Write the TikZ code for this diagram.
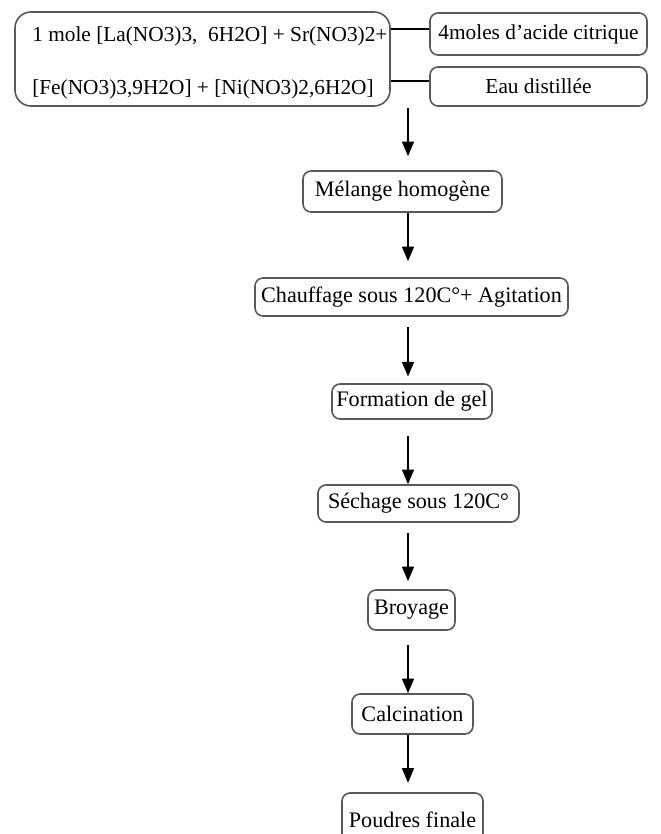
\documentclass[tikz,border=0pt]{standalone}
\usepackage{fontspec}
\setmainfont{Liberation Serif}
\usetikzlibrary{arrows.meta}
\begin{document}
\begin{tikzpicture}[x=0.75pt,y=-0.75pt,
  box/.style={draw=black!65, line width=1.2pt, rounded corners=6pt, fill=white,
    inner sep=0pt, align=center, font=\fontsize{16.6}{19.9}\selectfont},
  topbox/.style={box, font=\fontsize{16}{19.2}\selectfont},
  txt/.style={inner sep=0pt, font=\fontsize{16}{19.2}\selectfont},
  link/.style={draw=black, line width=1.1pt},
  arr/.style={draw=black, line width=1.1pt, -{Triangle[length=11pt,width=9pt]}}]
\useasboundingbox (0,0) rectangle (660,834);

% source box
\node[topbox, rounded corners=12pt, minimum width=281.25pt, minimum height=70.5pt] (src) at (202.5,59) {};
\node[txt, anchor=base west] (srcA) at (32,42) {1 mole [La(NO3)3,\ \ 6H2O] + Sr(NO3)2+};
\node[txt, anchor=base west] (srcB) at (32,95) {[Fe(NO3)3,9H2O] + [Ni(NO3)2,6H2O]};

\node[topbox, minimum width=162.75pt, minimum height=31.5pt] (acide) at (538.5,34) {4moles d’acide citrique};
\node[topbox, minimum width=162.75pt, minimum height=29.25pt] (eau) at (538.5,86.5) {Eau distillée};

\node[box, minimum width=149.25pt, minimum height=30.75pt] (melange) at (402.5,191.5) {Mélange homogène};
\node[box, minimum width=234.75pt, minimum height=28.5pt] (chauffage) at (411.5,297) {Chauffage sous 120C°+ Agitation};
\node[box, minimum width=120pt, minimum height=26.25pt] (gel) at (412,401.5) {Formation de gel};
\node[box, minimum width=150.75pt, minimum height=27.75pt] (sechage) at (418.5,503.5) {Séchage sous 120C°};
\node[box, minimum width=65.25pt, minimum height=30pt] (broyage) at (411.5,610) {Broyage};
\node[box, minimum width=90.75pt, minimum height=30pt] (calcination) at (412.5,714) {Calcination};
\node[box, minimum width=105.75pt, minimum height=40.5pt] (poudres) at (412.5,820) {Poudres finale};

% connectors
\coordinate (k1) at (410,29);
\coordinate (k2) at (410,81);
\coordinate (ax) at (408,0);
\coordinate (start) at (408,108);
\draw[link] (src.east |- k1) -- (acide.west |- k1);
\draw[link] (src.east |- k2) -- (eau.west |- k2);

\draw[arr, shorten >=10.5pt] (start) -- (melange.north -| ax);
\draw[arr, shorten >=12pt] (melange.south -| ax) -- (chauffage.north -| ax);
\draw[arr, shorten <=7.5pt, shorten >=5pt] (chauffage.south -| ax) -- (gel.north -| ax);
\draw[arr, shorten <=12pt] (gel.south -| ax) -- (sechage.north -| ax);
\draw[arr, shorten <=8pt, shorten >=6pt] (sechage.south -| ax) -- (broyage.north -| ax);
\draw[arr, shorten <=11pt] (broyage.south -| ax) -- (calcination.north -| ax);
\draw[arr, shorten >=7pt] (calcination.south -| ax) -- (poudres.north -| ax);
\end{tikzpicture}
\end{document}
